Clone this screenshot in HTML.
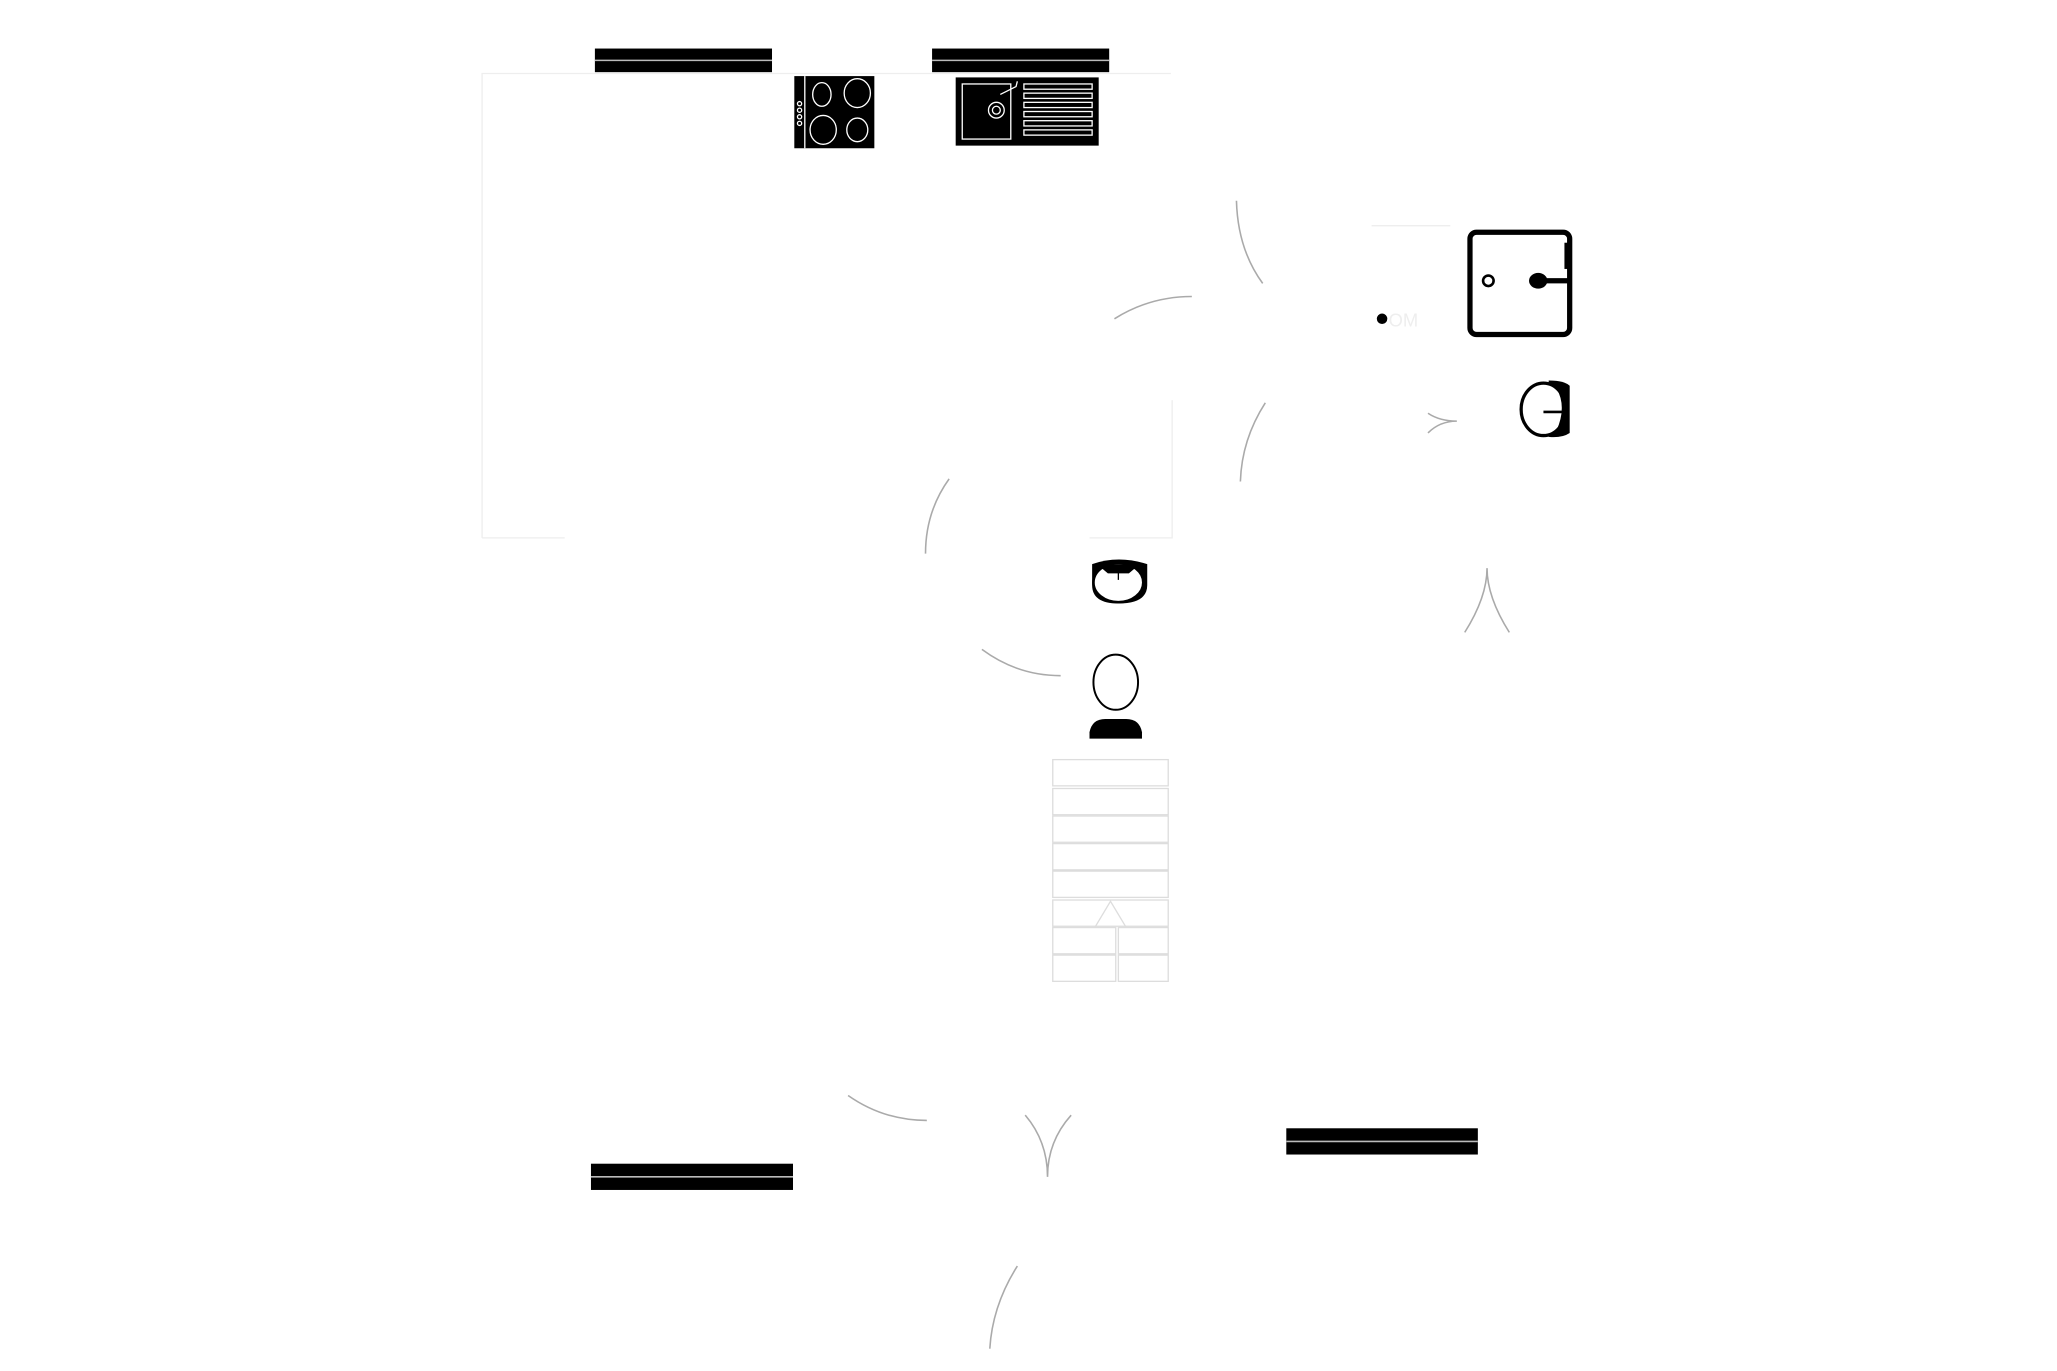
<!DOCTYPE html>
<html><head><meta charset="utf-8"><style>
html,body{margin:0;padding:0;background:#fff;width:2057px;height:1371px;overflow:hidden}
svg{display:block}
</style></head><body>
<svg width="2057" height="1371" viewBox="0 0 1567 1045" xmlns="http://www.w3.org/2000/svg">
<rect width="1567" height="1045" fill="#fff"/>
<g fill="none" stroke="#eee" stroke-width="1">
<polyline points="367,410 430,410"/>
<polyline points="367,410 367,56 892,56"/>
<polyline points="830,410 893,410 893,305"/>
<line x1="1045" y1="172" x2="1105" y2="172"/>
</g>
<g>
<rect x="453" y="37" width="135" height="18" fill="#000"/><line x1="453" y1="46" x2="588" y2="46" stroke="#bbb" stroke-width="1.2"/>
<rect x="710" y="37" width="135" height="18" fill="#000"/><line x1="710" y1="46" x2="845" y2="46" stroke="#bbb" stroke-width="1.2"/>
<rect x="450" y="887" width="154" height="20" fill="#000"/><line x1="450" y1="897" x2="604" y2="897" stroke="#bbb" stroke-width="1.2"/>
<rect x="980" y="860" width="146" height="20" fill="#000"/><line x1="980" y1="870" x2="1126" y2="870" stroke="#bbb" stroke-width="1.2"/>
</g>
<rect x="605" y="58" width="61" height="55" fill="#000"/>
<line x1="613" y1="58" x2="613" y2="113" stroke="#fff" stroke-width="1"/>
<g fill="none" stroke="#fff" stroke-width="1">
<ellipse cx="626" cy="72" rx="7" ry="9"/><ellipse cx="653" cy="71" rx="10" ry="11"/>
<ellipse cx="627" cy="99" rx="10" ry="11"/><ellipse cx="653" cy="99" rx="8" ry="9"/>
<circle cx="609" cy="79" r="1.6"/><circle cx="609" cy="84" r="1.6"/><circle cx="609" cy="89" r="1.6"/><circle cx="609" cy="94" r="1.6"/>
</g>
<rect x="728" y="59" width="109" height="52" fill="#000"/>
<g fill="none" stroke="#fff" stroke-width="1">
<rect x="733" y="64" width="37" height="42"/>
<circle cx="759" cy="84" r="6"/><circle cx="759" cy="84" r="3"/>
<path d="M762,72 L774,66 L775,62"/>
<rect x="780" y="64" width="52" height="4"/><rect x="780" y="71" width="52" height="4"/><rect x="780" y="78" width="52" height="4"/><rect x="780" y="85" width="52" height="4"/><rect x="780" y="92" width="52" height="4"/><rect x="780" y="99" width="52" height="4"/>
</g>
<rect x="1120" y="177" width="76" height="78" rx="5" fill="none" stroke="#000" stroke-width="4"/>
<rect x="1192" y="185" width="5" height="20" fill="#000"/>
<circle cx="1134" cy="214" r="4" fill="none" stroke="#000" stroke-width="2"/>
<ellipse cx="1172" cy="214" rx="7" ry="6" fill="#000"/>
<rect x="1175" y="212" width="20" height="4" fill="#000"/>
<circle cx="1053" cy="243" r="4" fill="#000"/>
<text x="1058" y="249" font-family="Liberation Sans, sans-serif" font-size="14" fill="#eee">OM</text>
<path d="M1180,290 Q1192,290 1196,294 L1196,330 Q1190,334 1180,333 Z" fill="#000"/>
<ellipse cx="1176" cy="312" rx="17" ry="20" fill="#fff" stroke="#000" stroke-width="2.5"/>
<path d="M1186,296 Q1194,310 1186,328 L1195,328 L1195,296 Z" fill="#000"/>
<line x1="1176" y1="314" x2="1192" y2="314" stroke="#000" stroke-width="2"/>
<path d="M832,430 Q852,423 874,430 L874,446 Q874,460 852,460 Q832,460 832,446 Z" fill="#000"/>
<ellipse cx="852" cy="444" rx="19" ry="15" fill="#fff" stroke="#000" stroke-width="2"/>
<path d="M838,432 Q852,428 866,432 L860,437 L844,437 Z" fill="#000"/>
<line x1="852" y1="432" x2="852" y2="442" stroke="#000" stroke-width="1"/>
<ellipse cx="850" cy="520" rx="17" ry="21" fill="#fff" stroke="#000" stroke-width="1.5"/>
<path d="M830,563 L830,558 Q832,548 842,548 L858,548 Q868,548 870,558 L870,563 Z" fill="#000"/>
<g fill="none" stroke="#ddd" stroke-width="1">
<rect x="802" y="579" width="88" height="20"/><rect x="802" y="601" width="88" height="20"/>
<rect x="802" y="622" width="88" height="20"/><rect x="802" y="643" width="88" height="20"/>
<rect x="802" y="664" width="88" height="20"/><rect x="802" y="686" width="88" height="20"/>
<rect x="802" y="707" width="48" height="20"/><rect x="852" y="707" width="38" height="20"/>
<rect x="802" y="728" width="48" height="20"/><rect x="852" y="728" width="38" height="20"/>
<path d="M834,707 L846,687 L858,707"/>
</g>
<g fill="none" stroke="#aaa" stroke-width="1.2">
<path d="M942,153 Q943,190 962,216"/>
<path d="M849,243 Q876,226 908,226"/>
<path d="M964,307 Q946,335 945,367"/>
<path d="M723,365 Q705,390 705,422"/>
<path d="M748,495 Q775,515 808,515"/>
<path d="M646,835 Q673,854 706,854"/>
<path d="M781,850 Q798,870 798,897 Q798,870 816,850"/>
<path d="M1116,482 Q1133,455 1133,433 Q1133,455 1150,482"/>
<path d="M1088,315 Q1097,321 1110,321 Q1097,321 1088,330"/>
<path d="M775,965 Q756,995 754,1028"/>
</g>
</svg>
</body></html>
